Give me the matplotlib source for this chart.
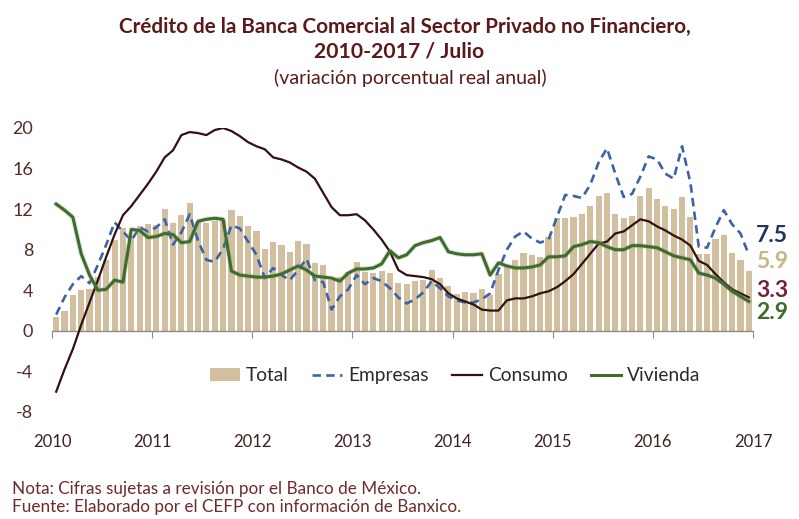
import matplotlib
matplotlib.use("Agg")
import matplotlib.pyplot as plt
import matplotlib.patheffects as pe
from matplotlib.lines import Line2D
import numpy as np

plt.rcParams['font.family'] = ['Lato', 'DejaVu Sans']
plt.rcParams['axes.unicode_minus'] = False

years = ['2010', '2011', '2012', '2013', '2014', '2015', '2016', '2017']

total = [1.4, 2.0, 3.5, 4.0, 4.1, 5.3, 7.0, 9.0, 10.1, 9.4, 10.3, 10.5,
         10.4, 12.0, 10.6, 11.4, 12.6, 10.7, 10.6, 10.8, 10.9, 11.9, 11.3, 10.3,
         9.8, 8.1, 8.8, 8.5, 7.8, 8.9, 8.6, 6.7, 6.5, 5.0, 5.3, 5.8,
         6.8, 5.8, 5.7, 5.9, 5.7, 4.7, 4.6, 4.9, 5.0, 6.0, 5.2, 4.4,
         3.6, 3.8, 3.7, 4.1, 3.5, 5.6, 6.4, 7.0, 7.7, 7.5, 7.3, 9.3,
         11.1, 11.1, 11.2, 11.5, 12.3, 13.3, 13.6, 11.5, 11.1, 11.3, 13.3, 14.1,
         13.0, 12.3, 12.0, 13.2, 11.2, 7.6, 7.6, 9.1, 9.5, 7.7, 7.0, 5.9]

empresas = [1.6, 3.3, 4.6, 5.4, 4.7, 6.5, 8.5, 10.7, 9.8, 8.9, 10.2, 9.8,
            10.2, 11.0, 8.5, 9.7, 11.5, 8.9, 7.0, 6.8, 8.1, 10.4, 10.1, 8.8,
            7.5, 5.2, 6.2, 5.5, 5.0, 6.0, 7.1, 5.0, 4.8, 2.1, 3.4, 4.1,
            5.5, 4.6, 5.2, 4.9, 4.2, 3.3, 2.7, 3.1, 3.8, 4.9, 4.2, 3.4,
            3.0, 2.8, 2.8, 3.1, 3.7, 6.0, 8.0, 9.3, 9.8, 9.1, 8.7, 9.0,
            11.2, 13.4, 13.3, 13.1, 14.4, 16.6, 18.0, 15.5, 13.2, 13.5, 15.2, 17.2,
            16.9, 15.5, 15.0, 18.2, 14.6, 8.3, 8.2, 10.2, 11.9, 10.5, 9.6, 7.5]

consumo = [-6.0, -3.8, -1.8, 0.6, 2.8, 5.0, 7.3, 9.5, 11.4, 12.3, 13.4, 14.5,
           15.7, 17.1, 17.8, 19.3, 19.6, 19.5, 19.3, 19.8, 20.0, 19.7, 19.2, 18.6,
           18.2, 17.9, 17.1, 16.9, 16.6, 16.1, 15.7, 15.0, 13.6, 12.2, 11.4, 11.4,
           11.5, 10.9, 10.0, 9.0, 7.8, 6.0, 5.5, 5.4, 5.3, 5.1, 4.6, 3.7,
           3.2, 2.9, 2.6, 2.1, 2.0, 2.0, 3.0, 3.2, 3.2, 3.4, 3.7, 3.9,
           4.3, 4.9, 5.6, 6.6, 7.6, 8.6, 8.8, 9.6, 9.8, 10.4, 11.0, 10.8,
           10.3, 9.9, 9.4, 9.0, 8.4, 6.9, 6.5, 5.6, 4.8, 4.1, 3.7, 3.3]

vivienda = [12.5, 11.9, 11.2, 7.6, 5.5, 4.0, 4.1, 5.0, 4.8, 10.0, 9.9, 9.2,
            9.3, 9.6, 9.5, 8.7, 8.8, 10.8, 11.0, 11.1, 11.0, 5.9, 5.5, 5.4,
            5.3, 5.3, 5.4, 5.6, 6.0, 6.4, 6.0, 5.4, 5.3, 5.2, 4.9, 5.7,
            6.1, 6.1, 6.2, 6.6, 7.9, 7.2, 7.5, 8.4, 8.7, 8.9, 9.2, 7.8,
            7.6, 7.5, 7.5, 7.6, 5.5, 6.7, 6.4, 6.2, 6.2, 6.3, 6.5, 7.3,
            7.3, 7.4, 8.3, 8.5, 8.8, 8.7, 8.3, 8.0, 8.0, 8.4, 8.4, 8.3,
            8.2, 7.8, 7.4, 7.2, 7.0, 5.7, 5.5, 5.2, 4.6, 3.9, 3.4, 2.9]

end_labels = ['7.5', '5.9', '3.3', '2.9']
end_label_y = [9.4, 6.8, 4.0, 1.8]

c_total = '#d1bf9f'
c_emp = '#3d62a6'
c_con = '#341010'
c_viv = '#3f6b2c'
c_text = '#5a2a2a'

fig = plt.figure(figsize=(7.99, 5.19), dpi=100)
ax = fig.add_axes([52/799, 1-412/519, 701/799, 284/519])

x = np.arange(len(total))
h_tot = ax.bar(x, total, width=0.74, color=c_total, label='Total', zorder=1)
h_emp, = ax.plot(x, empresas, color=c_emp, lw=1.9, dashes=(3.2, 2.0), label='Empresas', zorder=3)
h_con, = ax.plot(x, consumo, color=c_con, lw=1.6, label='Consumo', zorder=4)
h_viv, = ax.plot(x, vivienda, color=c_viv, lw=2.2, label='Vivienda', zorder=5,
                 path_effects=[pe.Stroke(linewidth=3.6, foreground='#86a878', alpha=0.3), pe.Normal()])

ax.set_xlim(-0.5, len(total) - 0.5)
ax.set_ylim(-8, 20)
ax.set_yticks(np.arange(-8, 21, 4))
ax.tick_params(axis='y', length=0, pad=13.5, labelsize=13, labelcolor=c_text)
for s in ['top', 'right', 'left']:
    ax.spines[s].set_visible(False)
ax.spines['bottom'].set_position(('data', 0))
ax.spines['bottom'].set_color('#8c8c8c')
ax.spines['bottom'].set_linewidth(1.0)
ax.set_xticks(np.arange(-0.5, len(total), 12))
ax.tick_params(axis='x', direction='out', length=5, color='#8c8c8c', labelbottom=False)

sec = ax.secondary_xaxis(0.0)
sec.set_xticks(np.arange(-0.5, len(total), 12))
sec.set_xticklabels(years)
sec.tick_params(axis='x', length=0, pad=16, labelsize=12, labelcolor='#3d1f1f')
sec.spines['bottom'].set_visible(False)

end_colors = ['#1f3560', '#c9b48a', '#7a2038', '#3f6b2c']
for lab, yy, cc in zip(end_labels, end_label_y, end_colors):
    ax.text(len(total) - 0.1, yy, lab, color=cc, fontsize=16.5, fontweight='bold',
            va='center', ha='left', clip_on=False)

leg_viv = Line2D([], [], color=c_viv, lw=2.2)
leg = ax.legend([h_tot, h_emp, h_con, leg_viv], ['Total', 'Empresas', 'Consumo', 'Vivienda'],
                loc='center', bbox_to_anchor=(0.575, 0.127), ncol=4, frameon=False,
                fontsize=13.8, handlelength=1.6, handletextpad=0.3, columnspacing=1.2,
                labelcolor='#2a2a2a')

fig.text(0.507, 1-27/519, 'Crédito de la Banca Comercial al Sector Privado no Financiero,',
         ha='center', va='center', fontsize=14.9, fontweight='bold', color='#5a1a1a')
fig.text(0.5, 1-52/519, '2010-2017 / Julio', ha='center', va='center',
         fontsize=15.2, fontweight='bold', color='#5a1a1a')
fig.text(0.513, 1-78/519, '(variación porcentual real anual)', ha='center', va='center',
         fontsize=14, color='#5a1a1a')

fig.text(12/799, 1-489/519, 'Nota: Cifras sujetas a revisión por el Banco de México.',
         ha='left', va='center', fontsize=12.3, color='#6e2b2b')
fig.text(12/799, 1-507/519, 'Fuente: Elaborado por el CEFP con información de Banxico.',
         ha='left', va='center', fontsize=12.3, color='#6e2b2b')

fig.savefig('out.png', dpi=100)
